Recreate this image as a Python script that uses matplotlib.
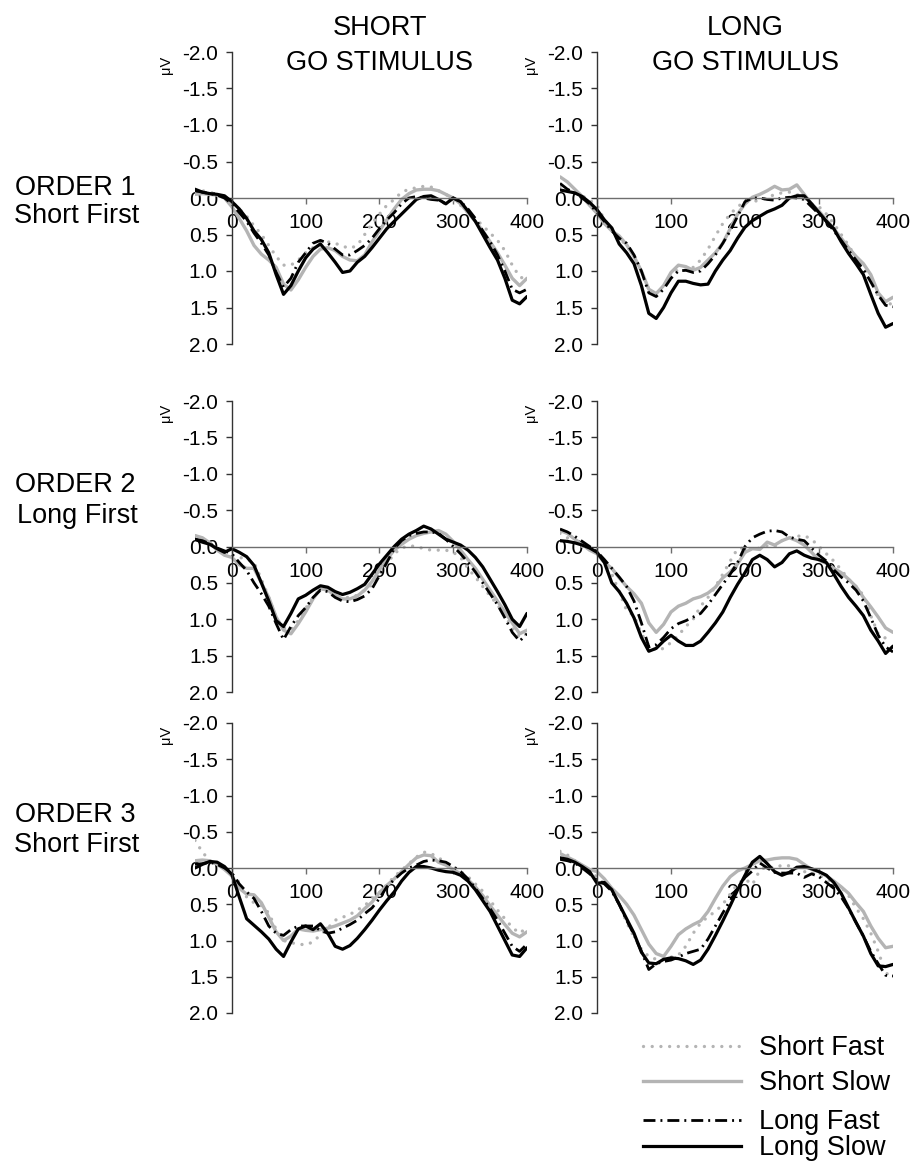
import matplotlib
matplotlib.use("Agg")
import matplotlib.pyplot as plt
from matplotlib.lines import Line2D

plt.rcParams['font.family'] = ['Liberation Sans', 'DejaVu Sans']

# ---------------- data (µV) ----------------
time_ms = [-50, -40, -30, -20, -10, 0, 10, 20, 30, 40, 50, 60, 70, 80, 90,
           100, 110, 120, 130, 140, 150, 160, 170, 180, 190, 200, 210, 220,
           230, 240, 250, 260, 270, 280, 290, 300, 310, 320, 330, 340, 350,
           360, 370, 380, 390, 400]

# Order 1 (Short First) – Short GO stimulus
o1s_short_fast = [-0.08, -0.1, -0.08, -0.05, 0.0, 0.05, 0.15, 0.25, 0.38, 0.5, 0.65, 0.8, 0.92, 0.92, 0.85,
                  0.75, 0.68, 0.62, 0.6, 0.62, 0.66, 0.69, 0.65, 0.5, 0.35, 0.22, 0.1, 0.02,
                  -0.08, -0.12, -0.14, -0.16, -0.15, -0.1, -0.05, 0.02, 0.1, 0.2, 0.28, 0.38, 0.48,
                  0.58, 0.72, 0.92, 1.08, 1.12]
o1s_short_slow = [-0.05, -0.06, -0.05, -0.04, 0.0, 0.12, 0.28, 0.45, 0.65, 0.77, 0.85, 0.95, 1.18, 1.26, 1.12,
                  0.95, 0.8, 0.7, 0.68, 0.72, 0.8, 0.85, 0.86, 0.78, 0.6, 0.45, 0.3, 0.15,
                  0.02, -0.06, -0.11, -0.12, -0.12, -0.1, -0.05, 0.0, 0.08, 0.2, 0.32, 0.45, 0.6,
                  0.75, 0.92, 1.1, 1.2, 1.1]
o1s_long_fast = [-0.1, -0.08, -0.06, -0.04, 0.0, 0.08, 0.2, 0.32, 0.48, 0.62, 0.78, 1.02, 1.22, 1.1, 0.88,
                 0.75, 0.62, 0.58, 0.62, 0.7, 0.78, 0.78, 0.72, 0.65, 0.55, 0.42, 0.3, 0.2,
                 0.08, 0.0, -0.02, 0.0, 0.02, 0.03, 0.08, 0.0, 0.05, 0.15, 0.28, 0.45, 0.6,
                 0.78, 1.0, 1.25, 1.3, 1.25]
o1s_long_slow = [-0.12, -0.08, -0.06, -0.05, -0.03, 0.05, 0.15, 0.28, 0.45, 0.57, 0.75, 1.05, 1.32, 1.2, 1.0,
                 0.82, 0.7, 0.63, 0.75, 0.88, 1.02, 1.0, 0.88, 0.8, 0.68, 0.55, 0.42, 0.32,
                 0.22, 0.12, 0.02, -0.02, -0.03, 0.02, 0.08, 0.0, 0.05, 0.18, 0.32, 0.5, 0.68,
                 0.85, 1.1, 1.4, 1.45, 1.35]

# Order 1 (Short First) – Long GO stimulus
o1l_short_fast = [-0.15, -0.12, -0.08, -0.03, 0.03, 0.1, 0.3, 0.42, 0.55, 0.65, 0.8, 1.02, 1.25, 1.33, 1.22,
                  1.05, 0.98, 0.99, 0.95, 0.85, 0.7, 0.52, 0.35, 0.22, 0.12, 0.05, 0.05, 0.03,
                  0.0, -0.05, -0.07, -0.08, -0.05, 0.0, 0.08, 0.12, 0.22, 0.35, 0.5, 0.65, 0.82,
                  0.95, 1.12, 1.35, 1.45, 1.45]
o1l_short_slow = [-0.29, -0.22, -0.12, -0.02, 0.1, 0.21, 0.35, 0.45, 0.52, 0.64, 0.8, 1.0, 1.25, 1.31, 1.2,
                  1.02, 0.92, 0.94, 0.99, 0.95, 0.85, 0.75, 0.62, 0.42, 0.22, 0.08, -0.01, -0.05,
                  -0.1, -0.16, -0.11, -0.12, -0.18, -0.05, 0.08, 0.18, 0.3, 0.42, 0.55, 0.68, 0.8,
                  0.9, 1.05, 1.3, 1.42, 1.36]
o1l_long_fast = [-0.2, -0.12, -0.06, 0.0, 0.08, 0.2, 0.32, 0.45, 0.55, 0.62, 0.78, 1.0, 1.3, 1.35, 1.25,
                 1.1, 1.0, 0.99, 1.02, 1.0, 0.9, 0.78, 0.62, 0.45, 0.25, 0.05, 0.0, 0.0,
                 0.02, 0.03, 0.0, -0.01, 0.0, 0.02, 0.12, 0.22, 0.32, 0.45, 0.58, 0.72, 0.85,
                 0.98, 1.15, 1.33, 1.47, 1.49]
o1l_long_slow = [-0.11, -0.09, -0.07, -0.02, 0.06, 0.16, 0.3, 0.41, 0.63, 0.75, 0.9, 1.2, 1.58, 1.65, 1.5,
                 1.3, 1.14, 1.14, 1.17, 1.19, 1.18, 1.0, 0.85, 0.72, 0.55, 0.4, 0.31, 0.25,
                 0.19, 0.15, 0.1, 0.0, -0.03, -0.03, 0.08, 0.2, 0.32, 0.42, 0.6, 0.76, 0.9,
                 1.05, 1.32, 1.58, 1.77, 1.72]

# Order 2 (Long First) – Short GO stimulus
o2s_short_fast = [-0.15, -0.1, -0.05, 0.05, 0.1, 0.12, 0.15, 0.17, 0.22, 0.45, 0.7, 0.98, 1.12, 1.15, 1.02,
                  0.85, 0.7, 0.58, 0.6, 0.68, 0.7, 0.7, 0.67, 0.6, 0.52, 0.38, 0.24, 0.1,
                  0.02, -0.01, 0.0, 0.03, 0.05, 0.05, 0.05, 0.08, 0.15, 0.3, 0.42, 0.55, 0.68,
                  0.8, 0.95, 1.12, 1.25, 1.2]
o2s_short_slow = [-0.15, -0.12, -0.05, 0.05, 0.12, 0.15, 0.25, 0.3, 0.3, 0.5, 0.7, 0.97, 1.15, 1.2, 1.06,
                  0.9, 0.72, 0.58, 0.6, 0.67, 0.72, 0.72, 0.68, 0.6, 0.48, 0.32, 0.18, 0.05,
                  -0.03, -0.1, -0.15, -0.18, -0.2, -0.22, -0.17, -0.07, 0.05, 0.18, 0.3, 0.45, 0.6,
                  0.75, 0.9, 1.05, 1.2, 1.15]
o2s_long_fast = [-0.1, -0.08, -0.04, 0.02, 0.06, 0.1, 0.22, 0.33, 0.5, 0.65, 0.82, 1.06, 1.28, 1.1, 0.95,
                 0.84, 0.7, 0.6, 0.62, 0.7, 0.75, 0.76, 0.73, 0.68, 0.58, 0.4, 0.22, 0.03,
                 -0.08, -0.15, -0.18, -0.2, -0.2, -0.18, -0.1, 0.0, 0.1, 0.22, 0.35, 0.5, 0.65,
                 0.8, 0.98, 1.18, 1.3, 1.2]
o2s_long_slow = [-0.1, -0.06, -0.03, 0.03, 0.08, 0.03, 0.08, 0.14, 0.26, 0.5, 0.75, 1.02, 1.1, 0.92, 0.72,
                 0.67, 0.6, 0.54, 0.56, 0.62, 0.66, 0.63, 0.58, 0.52, 0.38, 0.24, 0.12, 0.0,
                 -0.1, -0.17, -0.22, -0.28, -0.24, -0.17, -0.1, -0.06, -0.02, 0.05, 0.15, 0.28, 0.45,
                 0.62, 0.8, 1.0, 1.1, 0.92]

# Order 2 (Long First) – Long GO stimulus
o2l_short_fast = [-0.18, -0.12, -0.06, 0.0, 0.04, 0.08, 0.2, 0.38, 0.62, 0.88, 0.95, 1.2, 1.36, 1.43, 1.4,
                  1.32, 1.22, 1.1, 1.0, 0.82, 0.7, 0.55, 0.38, 0.2, 0.03, 0.02, 0.05, 0.02,
                  -0.01, 0.0, -0.08, -0.12, -0.14, -0.15, -0.1, 0.0, 0.1, 0.2, 0.32, 0.45, 0.55,
                  0.67, 0.95, 1.2, 1.26, 1.29]
o2l_short_slow = [-0.22, -0.18, -0.1, -0.03, 0.05, 0.1, 0.22, 0.3, 0.43, 0.55, 0.65, 0.78, 1.05, 1.18, 1.07,
                  0.9, 0.82, 0.78, 0.72, 0.69, 0.64, 0.56, 0.43, 0.35, 0.24, 0.08, 0.03, 0.04,
                  -0.06, -0.02, -0.08, -0.12, -0.08, -0.02, 0.08, 0.19, 0.23, 0.3, 0.36, 0.45, 0.55,
                  0.7, 0.83, 0.97, 1.12, 1.18]
o2l_long_fast = [-0.24, -0.2, -0.14, -0.07, 0.0, 0.07, 0.18, 0.3, 0.42, 0.55, 0.75, 1.05, 1.38, 1.35, 1.25,
                 1.13, 1.06, 1.02, 0.97, 0.92, 0.8, 0.66, 0.52, 0.38, 0.22, 0.0, -0.12, -0.17,
                 -0.21, -0.22, -0.2, -0.13, -0.1, -0.08, 0.02, 0.12, 0.2, 0.32, 0.42, 0.5, 0.6,
                 0.75, 0.98, 1.22, 1.38, 1.45]
o2l_long_slow = [-0.08, -0.07, -0.05, -0.02, 0.02, 0.08, 0.22, 0.5, 0.62, 0.78, 0.98, 1.25, 1.44, 1.4, 1.3,
                 1.22, 1.3, 1.36, 1.36, 1.3, 1.18, 1.05, 0.9, 0.7, 0.52, 0.36, 0.18, 0.12,
                 0.18, 0.28, 0.22, 0.1, 0.06, 0.12, 0.16, 0.18, 0.22, 0.38, 0.55, 0.7, 0.82,
                 0.95, 1.15, 1.3, 1.47, 1.37]

# Order 3 (Short First) – Short GO stimulus
o3s_short_fast = [-0.38, -0.22, -0.1, -0.05, 0.0, 0.08, 0.2, 0.4, 0.48, 0.52, 0.62, 0.85, 1.0, 1.03, 1.05,
                  1.06, 1.02, 0.92, 0.83, 0.72, 0.68, 0.64, 0.58, 0.52, 0.42, 0.34, 0.23, 0.12,
                  0.03, -0.06, -0.15, -0.22, -0.2, -0.14, -0.08, -0.02, 0.05, 0.12, 0.22, 0.32, 0.45,
                  0.58, 0.7, 0.82, 0.9, 0.82]
o3s_short_slow = [-0.1, -0.11, -0.1, -0.05, 0.02, 0.11, 0.28, 0.36, 0.37, 0.48, 0.68, 0.88, 1.0, 0.94, 0.84,
                  0.86, 0.87, 0.85, 0.83, 0.8, 0.76, 0.72, 0.66, 0.56, 0.47, 0.34, 0.24, 0.15,
                  0.05, -0.05, -0.14, -0.18, -0.17, -0.08, -0.04, 0.02, 0.08, 0.16, 0.26, 0.38, 0.52,
                  0.65, 0.78, 0.9, 0.95, 0.88]
o3s_long_fast = [-0.05, -0.06, -0.08, -0.05, 0.0, 0.07, 0.22, 0.33, 0.42, 0.6, 0.8, 0.9, 0.93, 0.85, 0.8,
                 0.8, 0.8, 0.86, 0.9, 0.88, 0.83, 0.78, 0.72, 0.63, 0.55, 0.42, 0.26, 0.16,
                 0.07, 0.0, -0.04, -0.09, -0.11, -0.1, -0.08, -0.02, 0.05, 0.15, 0.28, 0.42, 0.56,
                 0.72, 0.9, 1.08, 1.15, 1.05]
o3s_long_slow = [0.0, -0.05, -0.09, -0.08, -0.02, 0.09, 0.4, 0.7, 0.79, 0.88, 0.98, 1.12, 1.22, 1.02, 0.84,
                 0.8, 0.85, 0.77, 0.9, 1.08, 1.12, 1.07, 0.97, 0.85, 0.72, 0.58, 0.45, 0.33,
                 0.18, 0.06, -0.02, -0.02, 0.0, 0.03, 0.05, 0.06, 0.1, 0.18, 0.3, 0.45, 0.6,
                 0.8, 1.0, 1.2, 1.22, 1.1]

# Order 3 (Short First) – Long GO stimulus
o3l_short_fast = [-0.23, -0.18, -0.1, -0.02, 0.05, 0.12, 0.22, 0.3, 0.5, 0.75, 0.95, 1.12, 1.22, 1.26, 1.26,
                  1.23, 1.2, 1.08, 0.9, 0.76, 0.67, 0.6, 0.5, 0.36, 0.22, 0.15, 0.23, 0.03,
                  -0.02, 0.0, -0.04, -0.03, 0.0, 0.05, 0.07, 0.1, 0.15, 0.2, 0.26, 0.38, 0.55,
                  0.7, 0.9, 1.15, 1.45, 1.49]
o3l_short_slow = [-0.2, -0.15, -0.1, -0.04, 0.02, 0.05, 0.15, 0.28, 0.38, 0.5, 0.65, 0.85, 1.05, 1.18, 1.22,
                  1.08, 0.92, 0.84, 0.78, 0.73, 0.6, 0.42, 0.25, 0.12, 0.04, 0.0, -0.05, -0.1,
                  -0.11, -0.13, -0.14, -0.14, -0.12, -0.05, 0.02, 0.05, 0.11, 0.18, 0.26, 0.35, 0.48,
                  0.6, 0.8, 0.97, 1.1, 1.08]
o3l_long_fast = [-0.12, -0.1, -0.07, 0.0, 0.08, 0.17, 0.22, 0.32, 0.5, 0.72, 0.92, 1.15, 1.4, 1.32, 1.29,
                 1.27, 1.23, 1.18, 1.15, 1.12, 0.98, 0.8, 0.62, 0.45, 0.28, 0.13, 0.04, -0.07,
                 0.0, 0.06, 0.07, 0.07, 0.07, 0.13, 0.08, 0.12, 0.2, 0.28, 0.4, 0.56, 0.75,
                 0.94, 1.15, 1.32, 1.48, 1.49]
o3l_long_slow = [-0.14, -0.12, -0.08, -0.02, 0.05, 0.21, 0.2, 0.3, 0.5, 0.7, 0.9, 1.16, 1.31, 1.32, 1.26,
                 1.24, 1.25, 1.28, 1.33, 1.27, 1.12, 0.93, 0.73, 0.52, 0.3, 0.1, -0.08, -0.16,
                 -0.06, 0.05, 0.1, 0.06, -0.01, -0.02, 0.01, 0.05, 0.1, 0.2, 0.35, 0.55, 0.75,
                 0.94, 1.18, 1.35, 1.36, 1.33]

row_labels = [("ORDER 1", "Short First"), ("ORDER 2", "Long First"), ("ORDER 3", "Short First")]
col_titles = [("SHORT", "GO STIMULUS"), ("LONG", "GO STIMULUS")]
series_names = ["Short Fast", "Short Slow", "Long Fast", "Long Slow"]
y_ticks = [-2.0, -1.5, -1.0, -0.5, 0.0, 0.5, 1.0, 1.5, 2.0]
x_ticks = [0, 100, 200, 300, 400]

panels = [
    [(o1s_short_fast, o1s_short_slow, o1s_long_fast, o1s_long_slow),
     (o1l_short_fast, o1l_short_slow, o1l_long_fast, o1l_long_slow)],
    [(o2s_short_fast, o2s_short_slow, o2s_long_fast, o2s_long_slow),
     (o2l_short_fast, o2l_short_slow, o2l_long_fast, o2l_long_slow)],
    [(o3s_short_fast, o3s_short_slow, o3s_long_fast, o3s_long_slow),
     (o3l_short_fast, o3l_short_slow, o3l_long_fast, o3l_long_slow)],
]

# ---------------- styles ----------------
GRAY = '#b4b4b4'
styles = [
    dict(color=GRAY, lw=2.4, linestyle=(0, (0.01, 2.6)), dash_capstyle='round'),
    dict(color=GRAY, lw=2.4, linestyle='-'),
    dict(color='black', lw=2.0, linestyle=(0, (4.3, 1.8, 0.7, 1.8))),
    dict(color='black', lw=2.3, linestyle='-'),
]

# ---------------- layout (pixels) ----------------
W, H = 914, 1169
fig = plt.figure(figsize=(W / 100, H / 100), dpi=100)
fig.patch.set_facecolor('white')

col_x = [(195, 527), (560, 893)]          # x = -50 .. 400
row_y = [(52, 344), (401, 692), (723, 1013)]  # y = -2 .. 2


def px_rect(x0, x1, y0, y1):
    return [x0 / W, 1 - y1 / H, (x1 - x0) / W, (y1 - y0) / H]


for r in range(3):
    for c in range(2):
        ax = fig.add_axes(px_rect(col_x[c][0], col_x[c][1], row_y[r][0], row_y[r][1]))
        ax.patch.set_alpha(0)
        for s_vals, st in zip(panels[r][c], styles):
            ax.plot(time_ms, s_vals, solid_capstyle='round', solid_joinstyle='round', **st)
        ax.set_xlim(-50, 400)
        ax.set_ylim(2, -2)
        ax.spines['top'].set_visible(False)
        ax.spines['right'].set_visible(False)
        ax.spines['left'].set_position(('data', 0))
        ax.spines['bottom'].set_position(('data', 0))
        ax.spines['bottom'].set_bounds(0, 400)
        ax.spines['left'].set_color('#333333')
        ax.spines['bottom'].set_color('#6e6e6e')
        ax.spines['left'].set_linewidth(1.0)
        ax.spines['bottom'].set_linewidth(1.0)
        ax.set_yticks(y_ticks)
        ax.set_yticklabels([f"{v:.1f}" for v in y_ticks])
        ax.set_xticks(x_ticks)
        ax.set_xticklabels([str(v) for v in x_ticks])
        ax.tick_params(axis='y', direction='out', length=4, width=1, colors='#333333',
                       labelcolor='black', labelsize=15, pad=6)
        ax.tick_params(axis='x', direction='out', length=4, width=1, colors='#6e6e6e',
                       labelcolor='black', labelsize=15, pad=7)
        ax.text(-89, -1.83, "\u03bcV", rotation=90, ha='center', va='center',
                fontsize=10.5, clip_on=False)

# column titles
for c, (t1, t2) in enumerate(col_titles):
    xc = (232 if c == 0 else 597) + 148
    fig.text(xc / W, 1 - 35 / H, t1, ha='center', va='baseline', fontsize=19.5)
    fig.text(xc / W, 1 - 70 / H, t2, ha='center', va='baseline', fontsize=19.5)

# row labels
row_base = [(195, 223), (492, 523), (822, 852)]
for r, (t1, t2) in enumerate(row_labels):
    fig.text(75 / W, 1 - row_base[r][0] / H, t1, ha='center', va='baseline', fontsize=19.5)
    fig.text(77 / W, 1 - row_base[r][1] / H, t2, ha='center', va='baseline', fontsize=19.5)

# legend (one entry per box, to reproduce the uneven spacing)
leg_y = [1048, 1083, 1122, 1148]
for name, st, yy in zip(series_names, styles, leg_y):
    h = Line2D([], [], **st)
    lg = fig.legend([h], [name], loc='center left', bbox_to_anchor=(643 / W, 1 - yy / H),
                    frameon=False, fontsize=19.5, handlelength=3.6, handletextpad=0.68,
                    borderpad=0, borderaxespad=0)

fig.savefig("out.png", dpi=100, facecolor='white')
